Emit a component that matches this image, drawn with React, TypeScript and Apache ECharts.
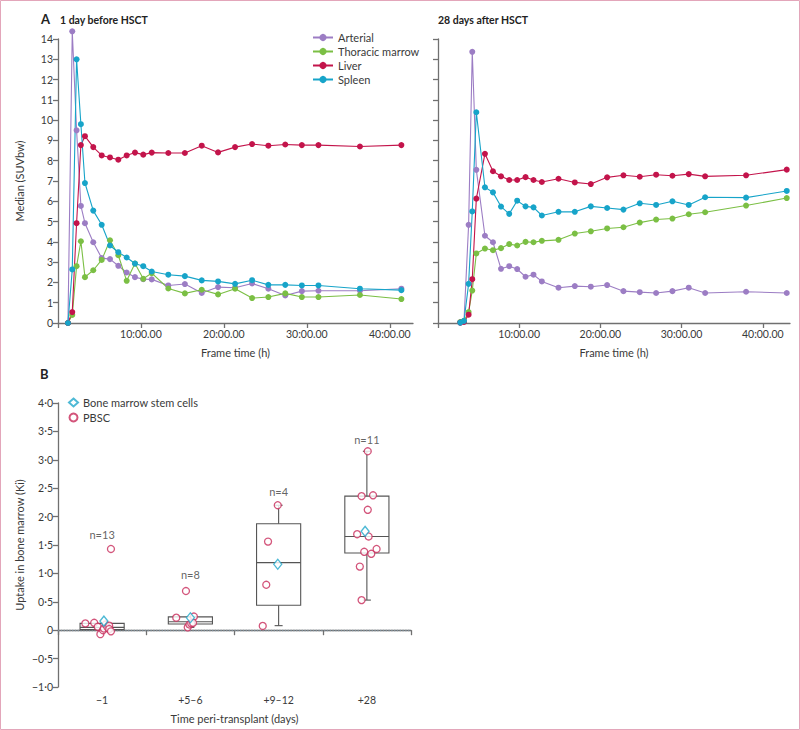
import React, { useEffect, useRef } from 'react';
import * as echarts from 'echarts';

// ---------- Panel A data ----------
const seriesNames = ['Arterial', 'Thoracic marrow', 'Liver', 'Spleen'];
const seriesColors = ['#9c7dc4', '#7bbf44', '#c3144b', '#17a4c9'];

const beforeTime = [1.2, 1.72, 2.24, 2.76, 3.25, 4.25, 5.27, 6.27, 7.27, 8.28, 9.28, 10.28, 11.3, 13.3, 15.3, 17.33, 19.3, 21.35, 23.4, 25.36, 27.4, 29.4, 31.4, 36.4, 41.4];
const beforeArterial = [0, 14.38, 9.5, 5.77, 4.92, 3.98, 3.2, 3.15, 2.82, 2.49, 2.26, 2.16, 2.15, 1.85, 1.92, 1.48, 1.77, 1.74, 1.95, 1.69, 1.36, 1.57, 1.59, 1.59, 1.69];
const beforeMarrow = [0, 0.4, 2.8, 4.03, 2.26, 2.6, 3.11, 4.08, 3.34, 2.08, 2.93, 2.18, 2.46, 1.7, 1.46, 1.64, 1.41, 1.69, 1.23, 1.28, 1.46, 1.28, 1.28, 1.38, 1.18];
const beforeLiver = [0, 0.54, 4.92, 8.77, 9.21, 8.67, 8.26, 8.16, 8.05, 8.26, 8.4, 8.3, 8.4, 8.38, 8.38, 8.74, 8.41, 8.67, 8.82, 8.74, 8.8, 8.77, 8.77, 8.7, 8.77];
const beforeSpleen = [0, 2.64, 13.0, 9.8, 6.9, 5.54, 4.84, 3.82, 3.49, 3.23, 2.93, 2.8, 2.54, 2.38, 2.31, 2.1, 2.05, 1.93, 2.11, 1.88, 1.88, 1.85, 1.85, 1.69, 1.62];

const afterTime = [2.74, 3.2, 3.77, 4.22, 4.72, 5.78, 6.77, 7.76, 8.77, 9.75, 10.78, 11.76, 12.79, 14.84, 16.85, 18.82, 20.83, 22.84, 24.85, 26.86, 28.87, 30.88, 32.9, 37.94, 42.95];
const afterArterial = [0.02, 0.08, 4.84, 13.37, 7.55, 4.3, 3.98, 2.67, 2.8, 2.66, 2.28, 2.38, 2.05, 1.74, 1.82, 1.79, 1.87, 1.57, 1.52, 1.48, 1.57, 1.74, 1.48, 1.54, 1.48];
const afterMarrow = [0.05, 0.1, 0.54, 1.6, 3.43, 3.67, 3.59, 3.69, 3.89, 3.82, 4.0, 3.98, 4.05, 4.1, 4.41, 4.52, 4.66, 4.72, 4.95, 5.1, 5.15, 5.36, 5.46, 5.79, 6.16];
const afterLiver = [0.02, 0.05, 0.41, 2.16, 6.13, 8.34, 7.48, 7.23, 7.05, 7.05, 7.19, 7.05, 6.95, 7.11, 6.93, 6.85, 7.18, 7.28, 7.21, 7.31, 7.26, 7.34, 7.23, 7.28, 7.56];
const afterSpleen = [0.02, 0.1, 1.93, 5.5, 10.39, 6.69, 6.44, 5.74, 5.38, 6.03, 5.75, 5.7, 5.3, 5.48, 5.48, 5.75, 5.67, 5.59, 5.9, 5.82, 6.0, 5.82, 6.2, 6.18, 6.51];

// ---------- Panel B data ----------
const boxCategories = ['−1', '+5–6', '+9–12', '+28'];
// [min, Q1, median, Q3, max]
const boxStats = [
  [0.0, 0.01, 0.05, 0.12, 0.12],
  [0.05, 0.11, 0.15, 0.235, 0.235],
  [0.08, 0.44, 1.19, 1.875, 2.2],
  [0.53, 1.36, 1.65, 2.36, 3.15],
];
// [position along category axis (0–4), Ki]
const pbscPoints = [
  [0.31, 0.12], [0.41, 0.13], [0.45, 0.06], [0.48, -0.07], [0.51, 0.0], [0.52, 0.03],
  [0.54, 0.1], [0.56, 0.05], [0.58, 0.08], [0.58, 0.02], [0.6, -0.02], [0.6, 1.43],
  [1.34, 0.22], [1.45, 0.69], [1.54, 0.24], [1.47, 0.05], [1.49, 0.1], [1.51, 0.12], [1.53, 0.13],
  [2.49, 2.2], [2.38, 1.56], [2.36, 0.8], [2.32, 0.075],
  [3.44, 2.36], [3.57, 2.375], [3.51, 2.12], [3.39, 1.69], [3.52, 1.65], [3.47, 1.38],
  [3.55, 1.345], [3.61, 1.43], [3.42, 1.12], [3.44, 0.53], [3.51, 3.15],
];
const bmscPoints = [[0.52, 0.16], [1.5, 0.22], [2.49, 1.16], [3.48, 1.74]];
const nLabels = [[0.5, 1.69, 'n=13'], [1.5, 0.98, 'n=8'], [2.5, 2.45, 'n=4'], [3.5, 3.36, 'n=11']];

const FONT = 'Lato';
const TEXT = '#3a3a3a';
const AXIS = '#707070';

export default function App() {
  const ref = useRef<HTMLDivElement>(null);

  useEffect(() => {
    const chart = echarts.init(ref.current as HTMLDivElement, null, { renderer: 'svg' });

    const axisLine = { show: true, lineStyle: { color: AXIS, width: 1.3 } };
    const axisTick = { show: true, length: 5, lineStyle: { color: AXIS, width: 1.3 } };
    const labelStyle = { color: TEXT, fontSize: 10.5, fontFamily: FONT };
    const nameStyle = { color: TEXT, fontSize: 11, fontFamily: FONT };

    const timeXAxis = (gridIndex: number, max: number) => ({
      type: 'value',
      gridIndex,
      min: 0,
      max,
      interval: 10,
      axisLine,
      axisTick,
      splitLine: { show: false },
      axisLabel: {
        ...labelStyle,
        margin: 5,
        formatter: (v: number) => (v === 0 ? '' : `${v}:00.00`),
      },
      name: 'Frame time (h)',
      nameLocation: 'middle',
      nameGap: 24,
      nameTextStyle: nameStyle,
    });

    const suvYAxis = (gridIndex: number, showLabels: boolean) => ({
      type: 'value',
      gridIndex,
      min: 0,
      max: 14,
      interval: 1,
      axisLine,
      axisTick,
      splitLine: { show: false },
      axisLabel: { ...labelStyle, show: showLabels, margin: 5 },
      name: showLabels ? 'Median (SUVbw)' : '',
      nameLocation: 'middle',
      nameGap: 33,
      nameTextStyle: nameStyle,
    });

    const lineSeries = (time: number[], vals: number[], idx: number, axis: number) => ({
      type: 'line',
      name: seriesNames[idx],
      xAxisIndex: axis,
      yAxisIndex: axis,
      clip: false,
      data: time.map((t, i) => [t, vals[i]]),
      symbol: 'circle',
      symbolSize: 6,
      color: seriesColors[idx],
      itemStyle: { color: seriesColors[idx] },
      lineStyle: { color: seriesColors[idx], width: 1.1 },
    });

    const beforeSets = [beforeArterial, beforeMarrow, beforeLiver, beforeSpleen];
    const afterSets = [afterArterial, afterMarrow, afterLiver, afterSpleen];

    const option: any = {
      animation: false,
      textStyle: { fontFamily: FONT },
      graphic: [
        {
          type: 'rect',
          silent: true,
          shape: { x: 0.5, y: 0.5, width: 799, height: 729 },
          style: { fill: 'none', stroke: '#e3a6ba', lineWidth: 1 },
        },
        { type: 'text', left: 41, top: 12, style: { text: 'A', font: `bold 13px ${FONT}`, fill: '#222' } },
        { type: 'text', left: 60, top: 14, style: { text: '1 day before HSCT', font: `bold 10.5px ${FONT}`, fill: '#222' } },
        { type: 'text', left: 438, top: 14, style: { text: '28 days after HSCT', font: `bold 10.5px ${FONT}`, fill: '#222' } },
        { type: 'text', left: 40, top: 367, style: { text: 'B', font: `bold 13px ${FONT}`, fill: '#222' } },
      ],
      legend: [
        {
          data: seriesNames,
          orient: 'vertical',
          left: 307,
          top: 27,
          itemWidth: 20,
          itemHeight: 9,
          itemGap: 3,
          textStyle: { color: TEXT, fontSize: 11, fontFamily: FONT },
        },
        {
          data: ['Bone marrow stem cells', 'PBSC'],
          orient: 'vertical',
          left: 63,
          top: 392,
          itemWidth: 9,
          itemHeight: 8,
          itemGap: 4,
          textStyle: { color: TEXT, fontSize: 11, fontFamily: FONT },
        },
      ],
      grid: [
        { left: 58, top: 39, width: 355, height: 284 },
        { left: 438, top: 39, width: 352, height: 284 },
        { left: 58, top: 403, width: 353, height: 284 },
      ],
      xAxis: [
        timeXAxis(0, 42.8),
        timeXAxis(1, 43.35),
        {
          type: 'category',
          gridIndex: 2,
          data: boxCategories,
          boundaryGap: true,
          axisLine,
          axisTick: { ...axisTick, alignWithLabel: false },
          axisLabel: { ...labelStyle, margin: 7 },
          splitLine: { show: false },
          name: 'Time peri-transplant (days)',
          nameLocation: 'middle',
          nameGap: 26,
          nameTextStyle: nameStyle,
        },
        { type: 'value', gridIndex: 2, min: 0, max: 4, show: false },
      ],
      yAxis: [
        suvYAxis(0, true),
        suvYAxis(1, false),
        {
          type: 'value',
          gridIndex: 2,
          min: -1,
          max: 4,
          interval: 0.5,
          axisLine,
          axisTick,
          splitLine: { show: false },
          axisLabel: {
            ...labelStyle,
            margin: 5,
            formatter: (v: number) =>
              Math.abs(v) < 1e-9 ? '0' : v.toFixed(1).replace('.', '·').replace('-', '−'),
          },
          name: 'Uptake in bone marrow (Ki)',
          nameLocation: 'middle',
          nameGap: 33,
          nameTextStyle: nameStyle,
        },
      ],
      series: [
        ...beforeSets.map((vals, i) => lineSeries(beforeTime, vals, i, 0)),
        ...afterSets.map((vals, i) => lineSeries(afterTime, vals, i, 1)),
        {
          type: 'custom',
          name: 'box',
          xAxisIndex: 3,
          yAxisIndex: 2,
          z: 2,
          data: boxStats.map((s, i) => [i + 0.5, ...s]),
          encode: { x: 0, y: [1, 2, 3, 4, 5] },
          renderItem: (params: any, api: any) => {
            const x = api.value(0);
            const lo = api.coord([x, api.value(1)]);
            const q1 = api.coord([x, api.value(2)]);
            const md = api.coord([x, api.value(3)]);
            const q3 = api.coord([x, api.value(4)]);
            const hi = api.coord([x, api.value(5)]);
            const w = api.size([0.5, 0])[0];
            const cx = lo[0];
            const st = { stroke: '#555', lineWidth: 1.1, fill: null };
            const children: any[] = [
              { type: 'line', shape: { x1: cx, y1: q3[1], x2: cx, y2: hi[1] }, style: st },
              { type: 'line', shape: { x1: cx, y1: q1[1], x2: cx, y2: lo[1] }, style: st },
              {
                type: 'rect',
                shape: { x: cx - w / 2, y: q3[1], width: w, height: q1[1] - q3[1] },
                style: { stroke: '#555', lineWidth: 1.1, fill: 'rgba(255,255,255,0)' },
              },
              { type: 'line', shape: { x1: cx - w / 2, y1: md[1], x2: cx + w / 2, y2: md[1] }, style: st },
            ];
            if (hi[1] < q3[1] - 1) {
              children.push({ type: 'line', shape: { x1: cx - 4, y1: hi[1], x2: cx + 4, y2: hi[1] }, style: st });
            }
            if (lo[1] > q1[1] + 1) {
              children.push({ type: 'line', shape: { x1: cx - 4, y1: lo[1], x2: cx + 4, y2: lo[1] }, style: st });
            }
            return { type: 'group', children };
          },
        },
        {
          type: 'scatter',
          name: 'PBSC',
          xAxisIndex: 3,
          yAxisIndex: 2,
          z: 4,
          symbol: 'circle',
          symbolSize: 7,
          itemStyle: { color: '#fff', borderColor: '#c82a5a', borderWidth: 1.3 },
          data: pbscPoints,
          markLine: {
            silent: true,
            symbol: ['none', 'none'],
            label: { show: false },
            lineStyle: { type: 'dotted', color: '#7f909c', width: 1.4 },
            data: [{ yAxis: 0 }],
            z: 1,
          },
        },
        {
          type: 'scatter',
          name: 'Bone marrow stem cells',
          xAxisIndex: 3,
          yAxisIndex: 2,
          z: 5,
          symbol: 'diamond',
          symbolSize: [8, 10],
          itemStyle: { color: '#fff', borderColor: '#22a7cb', borderWidth: 1.3 },
          data: bmscPoints,
        },
        {
          type: 'scatter',
          name: 'n',
          xAxisIndex: 3,
          yAxisIndex: 2,
          symbolSize: 1,
          itemStyle: { color: 'rgba(0,0,0,0)' },
          data: nLabels,
          label: {
            show: true,
            position: 'inside',
            formatter: (p: any) => p.data[2],
            color: TEXT,
            fontSize: 11,
            fontFamily: FONT,
          },
        },
      ],
    };

    chart.setOption(option);
    return () => chart.dispose();
  }, []);

  return (
    <div
      ref={ref}
      style={{ position: 'absolute', left: 0, top: 0, width: 800, height: 730 }}
    />
  );
}
